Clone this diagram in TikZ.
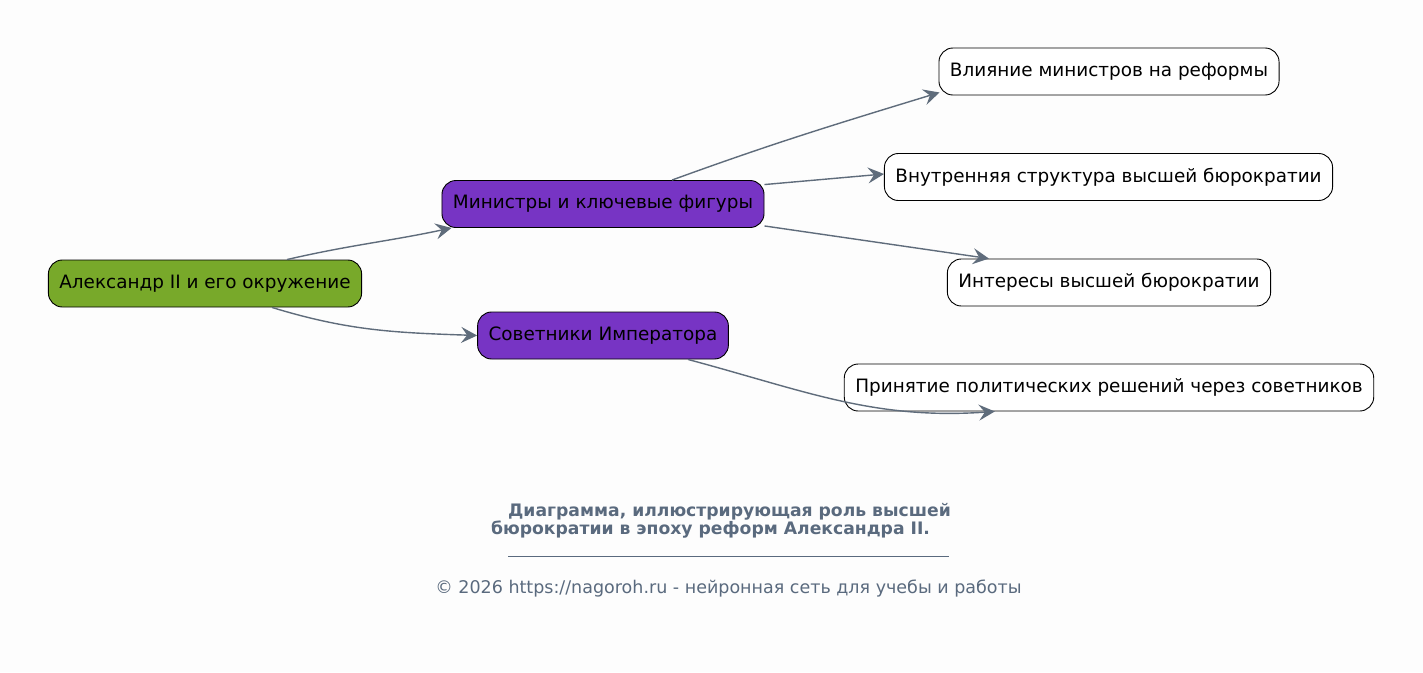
\documentclass[tikz,border=0pt]{standalone}
\usepackage{fontspec}
\setmainfont{DejaVu Sans}
\usepackage{xcolor}
\usetikzlibrary{shapes,arrows.meta,positioning,calc}

\definecolor{rootgreen}{HTML}{78A92A}
\definecolor{branchpurple}{HTML}{7734C4}
\definecolor{linkgray}{HTML}{5F6C7B}
\definecolor{captiongray}{HTML}{5A6A7E}
\definecolor{pagebg}{HTML}{FDFDFD}

\begin{document}
\begin{tikzpicture}[x=1pt,y=1pt,
    box/.style={rectangle, rounded corners=14pt, draw=black, line width=0.9pt,
        minimum height=47pt, inner xsep=11pt, font=\fontsize{18.4}{22}\selectfont},
    root/.style={box, fill=rootgreen},
    branch/.style={box, fill=branchpurple},
    leaf/.style={box, fill=white},
    link/.style={draw=linkgray, line width=1.4pt,
        -{Stealth[length=16pt, width=16pt, inset=6pt]}},
    caption/.style={text=captiongray, inner sep=0pt}]
    \fill[pagebg] (0,0) rectangle (1423,-672);
    \useasboundingbox (0,0) rectangle (1423,-672);

    \node (alexander) [root] at (205,-283.5) {Александр II и его окружение};
    \node (ministers) [branch] at (603,-204) {Министры и ключевые фигуры};
    \node (advisors) [branch] at (603,-335.5) {Советники Императора};

    \node (influence) [leaf] at (1109,-71.5) {Влияние министров на реформы};
    \node (structure) [leaf] at (1108.5,-177) {Внутренняя структура высшей бюрократии};
    \node (interests) [leaf] at (1109,-282.5) {Интересы высшей бюрократии};
    \node (decisions) [leaf] at (1109,-387.5) {Принятие политических решений через советников};

    \draw [link] ([xshift=82pt]alexander.north) to[out=13, in=192] ([xshift=10pt]ministers.south west);
    \draw [link] ([xshift=67pt]alexander.south) to[out=-17, in=178] (advisors.west);
    \draw [link] ([xshift=69pt]ministers.north) to[out=20, in=197] ([xshift=1pt, yshift=3pt]influence.south west);
    \draw [link] ([yshift=-4.5pt]ministers.north east) -- ([yshift=3pt]structure.west);
    \draw [link] ([yshift=2pt]ministers.south east) -- ([xshift=42pt]interests.north west);
    \draw [link] ([xshift=85pt]advisors.south) to[out=-15, in=184] ([xshift=151pt]decisions.south west);

    \node (title1) [caption, font=\bfseries\fontsize{17.2}{20}\selectfont] at (729.5,-512) {Диаграмма, иллюстрирующая роль высшей};
    \node (title2) [caption, font=\bfseries\fontsize{17.2}{20}\selectfont] at (710.5,-530) {бюрократии в эпоху реформ Александра II.};
    \coordinate (ruleleft) at (508,-556);
    \coordinate (ruleright) at (949,-556);
    \draw [captiongray, line width=0.8pt] (ruleleft) -- (ruleright);
    \node (footer) [caption, font=\fontsize{17.5}{20}\selectfont] at (728.5,-589) {© 2026 https://nagoroh.ru - нейронная сеть для учебы и работы};
\end{tikzpicture}
\end{document}
